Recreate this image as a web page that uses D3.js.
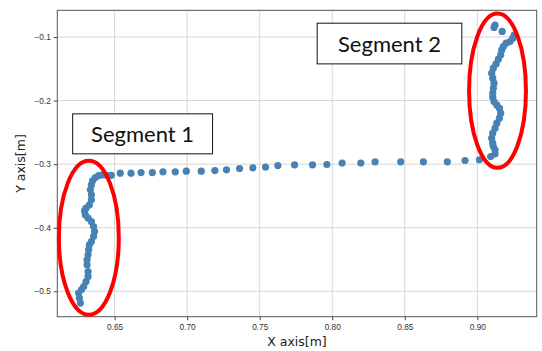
<!DOCTYPE html>
<html>
<head>
<meta charset="utf-8">
<script src="https://cdn.jsdelivr.net/npm/d3@7"></script>
<style>
  body { margin: 0; background: #fff; }
  svg { display: block; font-family: "DejaVu Sans", sans-serif; }
  .tick text { fill: #333; font-size: 8.3px; }
  .axis-label { fill: #222; font-size: 12.5px; }
  .seg-label { font-family: Lato, sans-serif; font-size: 22px; fill: #111; }
</style>
</head>
<body>
<svg id="chart" width="542" height="351"></svg>
<script>
// measured trajectory, bottom of segment 1 -> top of segment 2
const segment1X = [0.6264, 0.6257, 0.6252, 0.6271, 0.6287, 0.6303, 0.6317, 0.6317, 0.6310, 0.6310,
  0.6317, 0.6321, 0.6326, 0.6340, 0.6355, 0.6362, 0.6355, 0.6340, 0.6317, 0.6298,
  0.6293, 0.6303, 0.6326, 0.6340, 0.6340, 0.6333, 0.6340, 0.6348, 0.6367, 0.6390,
  0.6417, 0.6448, 0.6477];
const segment1Y = [-0.5186, -0.5107, -0.5028, -0.4976, -0.4925, -0.4846, -0.4767, -0.4689, -0.4583, -0.4505,
  -0.4426, -0.4347, -0.4269, -0.4217, -0.4138, -0.4060, -0.3981, -0.3903, -0.3849, -0.3797,
  -0.3734, -0.3692, -0.3640, -0.3561, -0.3483, -0.3404, -0.3325, -0.3263, -0.3211, -0.3179,
  -0.3168, -0.3179, -0.3176];

const transitionX = [0.6539, 0.6613, 0.6682, 0.6760, 0.6833, 0.6918, 0.6994, 0.7097, 0.7191, 0.7271,
  0.7361, 0.7453, 0.7540, 0.7625, 0.7740, 0.7864, 0.7963, 0.8068, 0.8197, 0.8295,
  0.8472, 0.8628, 0.8793, 0.8915, 0.9014];
const transitionY = [-0.3142, -0.3142, -0.3132, -0.3132, -0.3121, -0.3121, -0.3110, -0.3110, -0.3101, -0.3090,
  -0.3069, -0.3058, -0.3047, -0.3022, -0.3011, -0.3011, -0.3006, -0.2984, -0.2984, -0.2964,
  -0.2964, -0.2964, -0.2964, -0.2943, -0.2932];

const segment2X = [0.9092, 0.9122, 0.9122, 0.9110, 0.9106, 0.9099, 0.9106, 0.9122, 0.9134, 0.9152,
  0.9161, 0.9152, 0.9134, 0.9115, 0.9106, 0.9106, 0.9110, 0.9115, 0.9106, 0.9099,
  0.9110, 0.9129, 0.9145, 0.9161, 0.9168, 0.9179, 0.9198, 0.9225, 0.9244, 0.9255,
  0.9171, 0.9115, 0.9122];
const segment2Y = [-0.2881, -0.2838, -0.2775, -0.2723, -0.2670, -0.2591, -0.2513, -0.2434, -0.2355, -0.2277,
  -0.2198, -0.2119, -0.2068, -0.2016, -0.1947, -0.1884, -0.1805, -0.1726, -0.1648, -0.1569,
  -0.1491, -0.1423, -0.1349, -0.1281, -0.1203, -0.1151, -0.1097, -0.1072, -0.1019, -0.0967,
  -0.0912, -0.0850, -0.0811];

const xTicks = [0.65, 0.70, 0.75, 0.80, 0.85, 0.90];
const yTicks = [-0.5, -0.4, -0.3, -0.2, -0.1];
const segmentNames = ["Segment 1", "Segment 2"];

const svg = d3.select("#chart");
const margin = { top: 10.3, right: 5.3, bottom: 34.3, left: 57.3 };
const width = 542 - margin.left - margin.right;
const height = 351 - margin.top - margin.bottom;

const x = d3.scaleLinear().domain([0.6105, 0.9409]).range([0, width]);
const y = d3.scaleLinear().domain([-0.540, -0.058]).range([height, 0]);

const g = svg.append("g").attr("transform", `translate(${margin.left},${margin.top})`);

// grid
g.append("g")
  .selectAll("line")
  .data(xTicks)
  .join("line")
  .attr("x1", d => x(d)).attr("x2", d => x(d))
  .attr("y1", 0).attr("y2", height)
  .attr("stroke", "#d6d6d6");
g.append("g")
  .selectAll("line")
  .data(yTicks)
  .join("line")
  .attr("x1", 0).attr("x2", width)
  .attr("y1", d => y(d)).attr("y2", d => y(d))
  .attr("stroke", "#d6d6d6");

// axes
const xAxis = g.append("g")
  .attr("transform", `translate(0,${height})`)
  .call(d3.axisBottom(x).tickValues(xTicks).tickFormat(d3.format(".2f")).tickSize(3.5).tickPadding(4));
const yAxis = g.append("g")
  .call(d3.axisLeft(y).tickValues(yTicks).tickFormat(d3.format(".1f")).tickSize(3.5).tickPadding(3));
[xAxis, yAxis].forEach(a => {
  a.select(".domain").remove();
  a.selectAll(".tick line").attr("stroke", "#444");
});

// frame
g.append("rect")
  .attr("width", width).attr("height", height)
  .attr("fill", "none").attr("stroke", "#555").attr("stroke-width", 1);

// points
const points = [
  ...segment1X.map((v, i) => [v, segment1Y[i]]),
  ...transitionX.map((v, i) => [v, transitionY[i]]),
  ...segment2X.map((v, i) => [v, segment2Y[i]])
];
g.append("g")
  .selectAll("circle")
  .data(points)
  .join("circle")
  .attr("cx", d => x(d[0]))
  .attr("cy", d => y(d[1]))
  .attr("r", 3.6)
  .attr("fill", "#4682b4");

// red ellipses round each segment  [xMin, xMax, yMin, yMax] in data units
const rings = [[0.6116, 0.6529, -0.5370, -0.2948], [0.8943, 0.9335, -0.3058, -0.0632]];
g.append("g")
  .selectAll("ellipse")
  .data(rings)
  .join("ellipse")
  .attr("cx", d => (x(d[0]) + x(d[1])) / 2)
  .attr("cy", d => (y(d[2]) + y(d[3])) / 2)
  .attr("rx", d => (x(d[1]) - x(d[0])) / 2)
  .attr("ry", d => (y(d[2]) - y(d[3])) / 2)
  .attr("fill", "none")
  .attr("stroke", "#ff0000")
  .attr("stroke-width", 4);

// label boxes
const boxes = [[0.6211, 0.7175, -0.2838, -0.2209], [0.7896, 0.8893, -0.1423, -0.0783]];
const box = g.append("g")
  .selectAll("g")
  .data(boxes)
  .join("g");
box.append("rect")
  .attr("x", d => x(d[0]))
  .attr("y", d => y(d[3]))
  .attr("width", d => x(d[1]) - x(d[0]))
  .attr("height", d => y(d[2]) - y(d[3]))
  .attr("fill", "#fff")
  .attr("stroke", "#111")
  .attr("stroke-width", 1);
box.append("text")
  .attr("class", "seg-label")
  .attr("x", d => (x(d[0]) + x(d[1])) / 2)
  .attr("y", d => (y(d[2]) + y(d[3])) / 2)
  .attr("text-anchor", "middle")
  .attr("dominant-baseline", "central")
  .text((d, i) => segmentNames[i]);

// axis labels
svg.append("text")
  .attr("class", "axis-label")
  .attr("x", margin.left + width / 2)
  .attr("y", 346)
  .attr("text-anchor", "middle")
  .text("X axis[m]");
svg.append("text")
  .attr("class", "axis-label")
  .attr("transform", `translate(25,${margin.top + height / 2}) rotate(-90)`)
  .attr("text-anchor", "middle")
  .text("Y axis[m]");
</script>
</body>
</html>
